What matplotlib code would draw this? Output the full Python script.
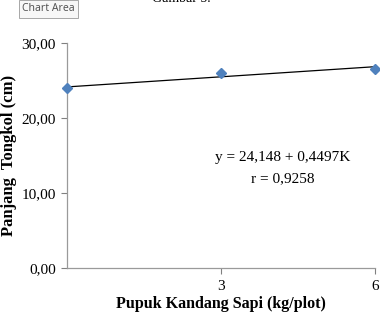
"""Pupuk kandang sapi vs panjang tongkol
"""
import matplotlib
matplotlib.use('Agg')
import matplotlib.pyplot as plt
import numpy as np

dosis = [0, 3, 6]
panjang = [23.95, 25.95, 26.6]
x_ticks = [3, 6]
x_ticklabels = ['3', '6']
y_ticks = [0, 10, 20, 30]
y_ticklabels = ['0,00', '10,00', '20,00', '30,00']
intercept = 24.148
slope = 0.4497
equation = 'y = 24,148 + 0,4497K'
r_text = 'r = 0,9258'

plt.rcParams['font.family'] = ['Liberation Serif', 'DejaVu Serif']

fig = plt.figure(figsize=(3.8, 3.2), dpi=100)
ax = fig.add_axes([0.176, 0.1625, 0.811, 0.703])

xs = np.array([min(dosis), max(dosis)])
ax.plot(xs, intercept + slope * xs, color='black', lw=0.9, zorder=2)
ax.plot(dosis, panjang, linestyle='none', marker='D', markersize=5,
        color='#4F81BD', clip_on=False, zorder=3)

ax.set_xlim(0, 6)
ax.set_ylim(0, 30)
ax.set_xticks(x_ticks)
ax.set_xticklabels(x_ticklabels, fontsize=11)
ax.set_yticks(y_ticks)
ax.set_yticklabels(y_ticklabels, fontsize=11)
ax.tick_params(axis='both', colors='#808080', length=4, width=0.8,
               labelcolor='black')
ax.tick_params(axis='x', pad=5)
ax.tick_params(axis='y', pad=4)

for side in ['top', 'right']:
    ax.spines[side].set_visible(False)
for side in ['left', 'bottom']:
    ax.spines[side].set_color('#9a9a9a')
    ax.spines[side].set_linewidth(0.9)

ax.set_xlabel('Pupuk Kandang Sapi (kg/plot)', fontsize=11.5,
              fontweight='bold', labelpad=2)
ax.set_ylabel('Panjang  Tongkol (cm)', fontsize=12, fontweight='bold')
ax.yaxis.set_label_coords(-0.162, 0.5)

ax.text(4.21, 14.8, equation, fontsize=11, ha='center', va='center')
ax.text(4.21, 11.9, r_text, fontsize=11, ha='center', va='center')

# word-editor leftovers at the top
fig.text(0.40, 1.005, 'Gambar 5.', fontsize=10, ha='left', va='center')
fig.text(0.058, 0.972, 'Chart Area', fontsize=7.5, family='Noto Sans',
         color='#555555', ha='left', va='center',
         bbox=dict(boxstyle='square,pad=0.3', fc='#f7f7f7', ec='#9a9a9a',
                   lw=0.6))

fig.savefig('out.png', dpi=100)
